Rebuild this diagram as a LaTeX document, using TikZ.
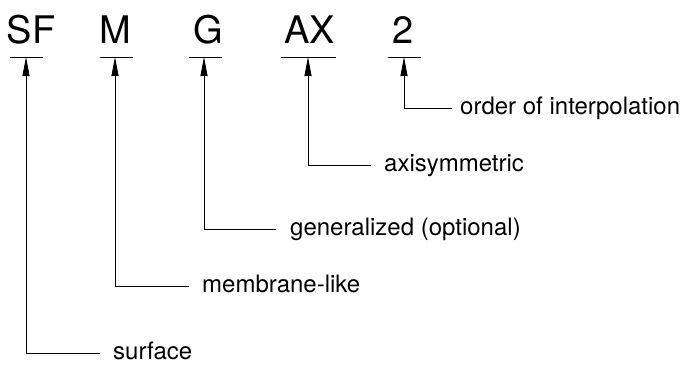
\documentclass[tikz,border=0pt]{standalone}
\usepackage{fontspec}
\setmainfont{TeX Gyre Heros}
\usetikzlibrary{arrows.meta}
\begin{document}
\begin{tikzpicture}[x=1pt,y=1pt,
  code/.style={anchor=base,inner sep=0pt,font=\fontsize{38}{40}\selectfont},
  lab/.style={anchor=base west,inner sep=0pt,font=\fontsize{24}{26}\selectfont},
  uline/.style={line width=0.8pt},
  arr/.style={line width=0.8pt,-{Triangle[length=19pt,width=7pt]}}]
\useasboundingbox (0,0) rectangle (689,376);
% code letters
\node[code] (sf) at (31,333) {SF};
\node[code] (m) at (115,333) {M};
\node[code] (g) at (208.5,333) {G};
\node[code] (ax) at (309.5,333) {AX};
\node[code] (two) at (403.5,333) {2};
% underlines
\coordinate (sfL) at (10,319); \coordinate (sfR) at (43,319);
\coordinate (mL) at (100,319); \coordinate (mR) at (133,319);
\coordinate (gL) at (189,319); \coordinate (gR) at (222,319);
\coordinate (axL) at (281,319); \coordinate (axR) at (336,319);
\coordinate (twoL) at (388,319); \coordinate (twoR) at (421,319);
\draw[uline] (sfL) -- (sfR);
\draw[uline] (mL) -- (mR);
\draw[uline] (gL) -- (gR);
\draw[uline] (axL) -- (axR);
\draw[uline] (twoL) -- (twoR);
% arrow tips
\coordinate (sfT) at (26,319);
\coordinate (mT) at (115,319);
\coordinate (gT) at (204,319);
\coordinate (axT) at (308,319);
\coordinate (twoT) at (404,319);
% line ends
\coordinate (sfE) at (100,23);
\coordinate (mE) at (189,90);
\coordinate (gE) at (276,147);
\coordinate (axE) at (371,211);
\coordinate (twoE) at (452,268);
% labels
\node[lab] (lsf) at (113,16.5) {surface};
\node[lab] (lm) at (202,83.5) {membrane-like};
\node[lab] (lg) at (290,140.5) {generalized (optional)};
\node[lab] (lax) at (384,204.5) {axisymmetric};
\node[lab] (ltwo) at (460,261.5) {order of interpolation};
% connectors
\draw[arr] (sfE) -| (sfT);
\draw[arr] (mE) -| (mT);
\draw[arr] (gE) -| (gT);
\draw[arr] (axE) -| (axT);
\draw[arr] (twoE) -| (twoT);
\end{tikzpicture}
\end{document}
